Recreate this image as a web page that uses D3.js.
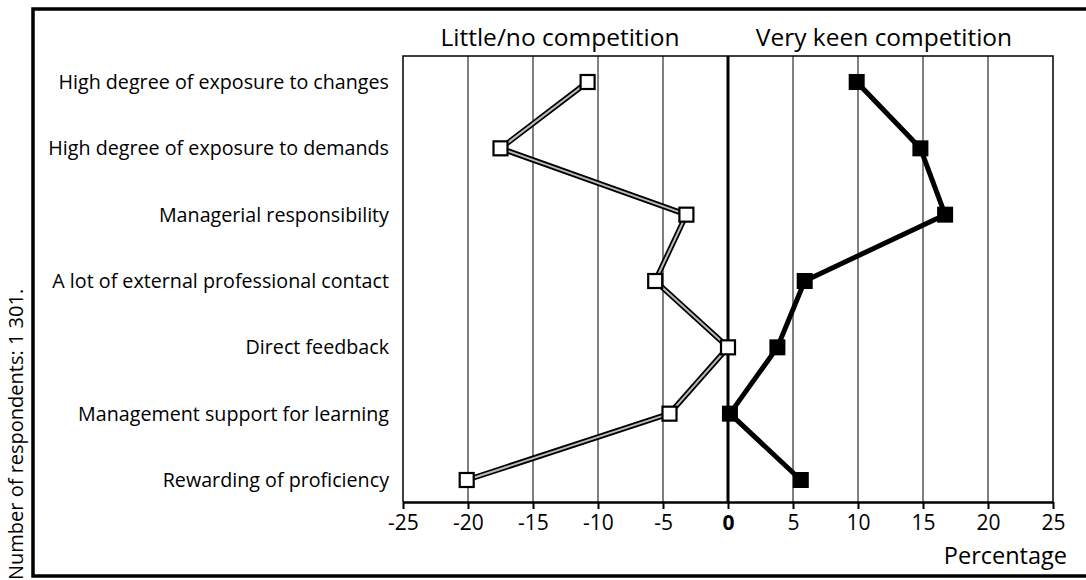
<!DOCTYPE html>
<html>
<head>
<meta charset="utf-8">
<script src="https://cdn.jsdelivr.net/npm/d3@7/dist/d3.min.js"></script>
<style>
  body { margin: 0; background: #fff; }
  text { font-family: "Open Sans", "Noto Sans", sans-serif; fill: #000; }
</style>
</head>
<body>
<div id="container"></div>
<script>
// Data
const categories = [
    "High degree of exposure to changes",
    "High degree of exposure to demands",
    "Managerial responsibility",
    "A lot of external professional contact",
    "Direct feedback",
    "Management support for learning",
    "Rewarding of proficiency"
];
const littleCompetition = [-10.8, -17.5, -3.2, -5.6, 0, -4.5, -20.1];
const keenCompetition = [9.9, 14.8, 16.7, 5.9, 3.8, 0.15, 5.6];
const xTicks = [-25, -20, -15, -10, -5, 0, 5, 10, 15, 20, 25];
const seriesTitles = ["Little/no competition", "Very keen competition"];

// Dimensions
const W = 1086, H = 580;
const plot = { left: 403, right: 1053, top: 56, bottom: 502 };

const svg = d3.select("#container")
    .append("svg")
    .attr("width", W)
    .attr("height", H);

// Outer frame
svg.append("rect")
    .attr("x", 33).attr("y", 9)
    .attr("width", 1070).attr("height", 567)
    .attr("fill", "none")
    .attr("stroke", "#000")
    .attr("stroke-width", 3.5);

// Scales
const x = d3.scaleLinear().domain([-25, 25]).range([plot.left, plot.right]);
const y = d3.scalePoint().domain(categories).range([plot.top + 26, plot.bottom - 22]);

// Vertical grid lines
svg.append("g")
    .selectAll("line")
    .data(xTicks.filter(d => d !== -25 && d !== 25))
    .enter()
    .append("line")
    .attr("x1", d => x(d)).attr("x2", d => x(d))
    .attr("y1", plot.top).attr("y2", plot.bottom)
    .attr("stroke", "#000")
    .attr("stroke-width", d => d === 0 ? 3 : 1);

// Plot box (top, left, right)
svg.append("path")
    .attr("d", `M${plot.left},${plot.bottom}V${plot.top}H${plot.right}V${plot.bottom}`)
    .attr("fill", "none")
    .attr("stroke", "#000")
    .attr("stroke-width", 1.5);

// X axis
const xAxis = svg.append("g")
    .attr("transform", `translate(0,${plot.bottom})`)
    .call(d3.axisBottom(x).tickValues(xTicks).tickSize(7).tickSizeOuter(0).tickPadding(6)
        .tickFormat(d => d < 0 ? "-" + Math.abs(d) : d));
xAxis.select(".domain").attr("stroke", "#000").attr("stroke-width", 2.5);
xAxis.selectAll(".tick line").attr("stroke", "#000").attr("stroke-width", 2);
xAxis.selectAll(".tick text")
    .attr("font-family", "'Liberation Sans', Arial, sans-serif")
    .attr("font-size", 21)
    .attr("font-weight", d => d === 0 ? "bold" : "normal")
    .attr("fill", "#000");

// Y axis labels
svg.append("g")
    .selectAll("text")
    .data(categories)
    .enter()
    .append("text")
    .attr("x", 389)
    .attr("y", d => y(d))
    .attr("dy", "0.35em")
    .attr("text-anchor", "end")
    .attr("font-size", 19.7)
    .text(d => d);

// Series titles
svg.append("text")
    .attr("x", 560).attr("y", 46)
    .attr("text-anchor", "middle")
    .attr("font-size", 24.5)
    .text(seriesTitles[0]);
svg.append("text")
    .attr("x", 884).attr("y", 46)
    .attr("text-anchor", "middle")
    .attr("font-size", 24.5)
    .text(seriesTitles[1]);

// Axis title
svg.append("text")
    .attr("x", 1067).attr("y", 564)
    .attr("text-anchor", "end")
    .attr("font-family", "'Liberation Sans', Arial, sans-serif")
    .attr("font-size", 23.5)
    .text("Percentage");

// Note
svg.append("text")
    .attr("transform", "translate(23,580) rotate(-90)")
    .attr("font-size", 20)
    .text("Number of respondents: 1 301.");

// Lines
const line = d3.line()
    .x(d => x(d.v))
    .y(d => y(d.c));

const littleData = categories.map((c, i) => ({ c, v: littleCompetition[i] }));
const keenData = categories.map((c, i) => ({ c, v: keenCompetition[i] }));

// Double (outlined) line for little/no competition
svg.append("path")
    .datum(littleData)
    .attr("d", line)
    .attr("fill", "none")
    .attr("stroke", "#000")
    .attr("stroke-width", 5.5)
    .attr("stroke-linejoin", "round");
svg.append("path")
    .datum(littleData)
    .attr("d", line)
    .attr("fill", "none")
    .attr("stroke", "#bbb")
    .attr("stroke-width", 2)
    .attr("stroke-linejoin", "round");

svg.append("path")
    .datum(keenData)
    .attr("d", line)
    .attr("fill", "none")
    .attr("stroke", "#000")
    .attr("stroke-width", 5)
    .attr("stroke-linejoin", "round");

// Markers
const s = 14;
svg.append("g")
    .selectAll("rect")
    .data(littleData)
    .enter()
    .append("rect")
    .attr("x", d => x(d.v) - s / 2)
    .attr("y", d => y(d.c) - s / 2)
    .attr("width", s).attr("height", s)
    .attr("fill", "#fff")
    .attr("stroke", "#000")
    .attr("stroke-width", 2.2);

svg.append("g")
    .selectAll("rect")
    .data(keenData)
    .enter()
    .append("rect")
    .attr("x", d => x(d.v) - s / 2 - 1)
    .attr("y", d => y(d.c) - s / 2 - 1)
    .attr("width", s + 2).attr("height", s + 2)
    .attr("fill", "#000");
</script>
</body>
</html>
